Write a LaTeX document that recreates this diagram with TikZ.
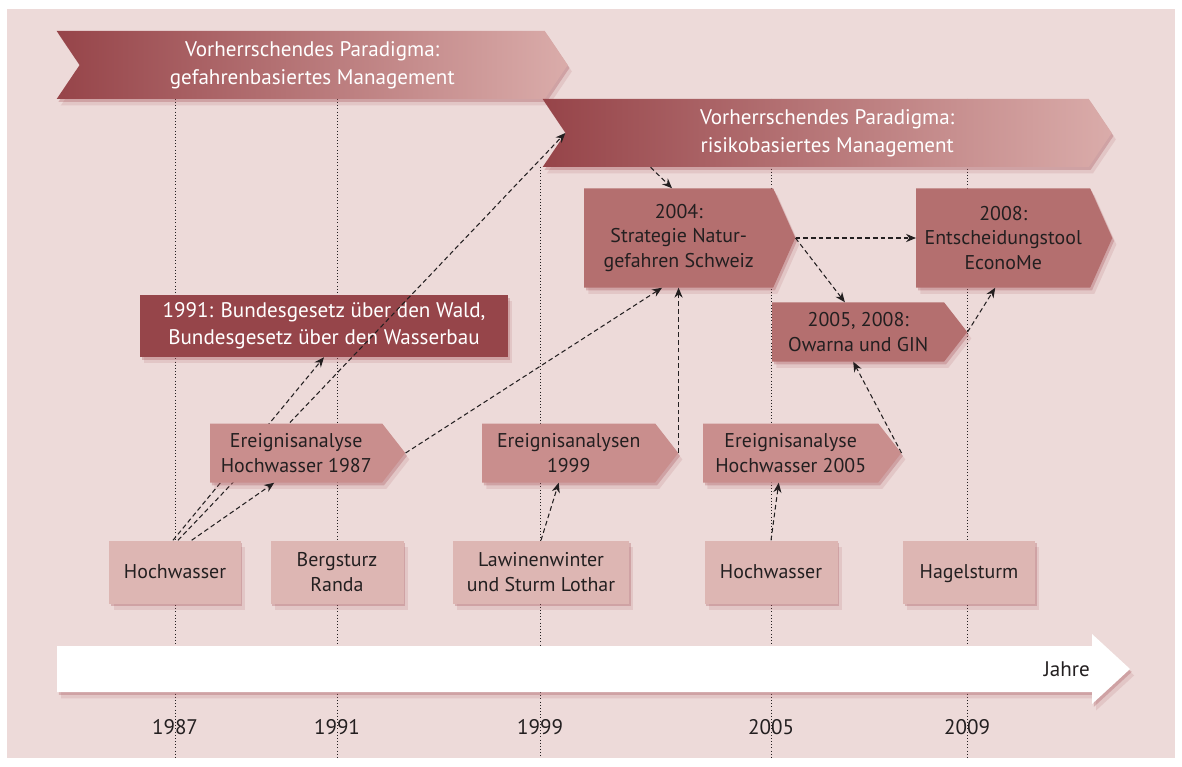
\documentclass[tikz,border=0pt]{standalone}
\usepackage{fontspec}
\setmainfont{PT Sans}
\usetikzlibrary{arrows.meta, positioning, calc, shapes.symbols, shadows}

\definecolor{bgpink}{RGB}{237,218,217}
\definecolor{bannerdark}{RGB}{150,68,73}
\definecolor{bannerlight}{RGB}{218,172,170}
\definecolor{lawred}{RGB}{150,69,74}
\definecolor{steprose}{RGB}{180,111,111}
\definecolor{analysisrose}{RGB}{201,142,141}
\definecolor{eventrose}{RGB}{221,182,179}
\definecolor{shadowred}{RGB}{165,80,86}
\definecolor{inkdark}{RGB}{35,31,32}

\begin{document}
\begin{tikzpicture}[
    x=0.03cm, y=-0.03cm,
    >=Stealth,
    yearline/.style={inkdark, dotted, line width=0.7pt},
    link/.style={->, inkdark, line width=0.9pt, dash pattern=on 4pt off 2.6pt,
        >={Stealth[length=8.5pt, width=7pt]}},
    softshadow/.style={
        drop shadow={shadow xshift=1.5pt, shadow yshift=-2.5pt, fill=shadowred, opacity=.30},
        drop shadow={shadow xshift=3.5pt, shadow yshift=-5.5pt, fill=shadowred, opacity=.14}},
    banner/.style={signal, signal from=west, signal to=east, signal pointer angle=112,
        left color=bannerdark, right color=bannerlight, text=white,
        minimum height=2.04cm, inner sep=0pt, align=center,
        font=\fontsize{18}{24}\selectfont, softshadow},
    lawbox/.style={rectangle, fill=lawred, text=white, minimum width=11.04cm,
        minimum height=1.86cm, align=center, font=\fontsize{18}{23}\selectfont, softshadow},
    stepbox/.style={signal, signal to=east, signal pointer angle=132, fill=steprose,
        text=inkdark, minimum height=2.97cm, inner sep=0pt, align=center,
        font=\fontsize{17}{21}\selectfont, softshadow},
    analysisbox/.style={signal, signal to=east, signal pointer angle=104, fill=analysisrose,
        text=inkdark, minimum height=1.77cm, inner sep=0pt, align=center,
        font=\fontsize{17}{21}\selectfont, softshadow},
    eventbox/.style={rectangle, fill=eventrose, text=inkdark, minimum height=1.89cm,
        inner sep=0pt, text depth=0pt, align=center, font=\fontsize{17}{21}\selectfont, softshadow},
    yearlabel/.style={text=inkdark, font=\fontsize{18}{22}\selectfont}
]
    % Hintergrund
    \useasboundingbox (0,0) rectangle (1182,767);
    \fill[bgpink] (7,9) rectangle (1175,758);

    % Jahreslinien und Jahreszahlen
    \foreach \xpos/\ystart/\yr in {175/99/1987, 337/99/1991, 540/167/1999, 771/99/2005, 967/99/2009} {
        \draw[yearline] (\xpos,\ystart) -- (\xpos,757);
        \node[yearlabel] (y\yr) at (\xpos,727) {\yr};
    }

    % Zeitachse
    \path[fill=white, softshadow] (57,646) -- (1092,646) -- (1092,634) -- (1130,669)
        -- (1092,704) -- (1092,692) -- (57,692) -- cycle;
    \node[yearlabel, anchor=east] (jahre) at (1094,669) {Jahre};

    % Paradigmen
    \node[banner, minimum width=15.33cm, anchor=east] (hazard) at (568,65)
        {Vorherrschendes Paradigma:\\gefahrenbasiertes Management};
    \node[banner, minimum width=17.07cm, anchor=east] (risk) at (1112,133)
        {Vorherrschendes Paradigma:\\risikobasiertes Management};

    % Ereignisse
    \node[eventbox, minimum width=3.93cm] (hw87) at (175,572) {Hochwasser};
    \node[eventbox, minimum width=3.99cm] (br91) at (337,572) {Bergsturz\\Randa};
    \node[eventbox, minimum width=5.28cm] (lw99) at (541,572) {Lawinenwinter\\und Sturm Lothar};
    \node[eventbox, minimum width=3.99cm] (hw05) at (771,572) {Hochwasser};
    \node[eventbox, minimum width=3.96cm] (hs09) at (969,572) {Hagelsturm};

    % Gesetze 1991
    \node[lawbox] (law91) at (324,326)
        {1991: Bundesgesetz über den Wald,\\Bundesgesetz über den Wasserbau};

    % Verbindungen hinter den Kaesten
    \draw[link] ([xshift=0.09cm]hw87.north) -- (risk.west);
    \draw[link] ([xshift=-0.06cm]hw87.north) -- (law91.south);

    % Ereignisanalysen
    \node[analysisbox, minimum width=5.85cm, anchor=west] (ea87) at (210,453)
        {Ereignisanalyse\\Hochwasser 1987};
    \node[analysisbox, minimum width=5.88cm, anchor=west] (ea99) at (482,453)
        {Ereignisanalysen\\1999};
    \node[analysisbox, minimum width=5.94cm, anchor=west] (ea05) at (703,453)
        {Ereignisanalyse\\Hochwasser 2005};

    % Instrumente
    \node[stepbox, minimum width=6.33cm, anchor=west] (strat) at (584,238)
        {2004:\\Strategie Natur-\\gefahren Schweiz};
    \node[stepbox, minimum width=5.88cm, anchor=west] (econ) at (916,238)
        {2008:\\Entscheidungstool\\EconoMe};
    \node[analysisbox, fill=steprose, minimum width=5.85cm, anchor=west] (owarna) at (772,332)
        {2005, 2008:\\Owarna und GIN};

    % Verbindungen
    \draw[link] ([xshift=0.5cm]hw87.north) -- ([xshift=-0.66cm]ea87.south);
    \draw[link] (ea87.east) -- ([xshift=-0.5cm]strat.south);
    \draw[link] (ea99.east) -- (ea99.east |- strat.south);
    \draw[link] (lw99.north) -- ([xshift=-0.3cm]ea99.south);
    \draw[link] ([xshift=-5.3cm]risk.south) -- ([xshift=-0.2cm]strat.north);
    \draw[link] (strat.east) -- (econ.west);
    \draw[link] (strat.east) -- ([xshift=-0.4cm]owarna.north);
    \draw[link] (owarna.east) -- ([xshift=-0.24cm]econ.south);
    \draw[link] (ea05.east) -- ([xshift=-0.15cm]owarna.south);
    \draw[link] (hw05.north) -- ([xshift=-0.36cm]ea05.south);
\end{tikzpicture}
\end{document}
